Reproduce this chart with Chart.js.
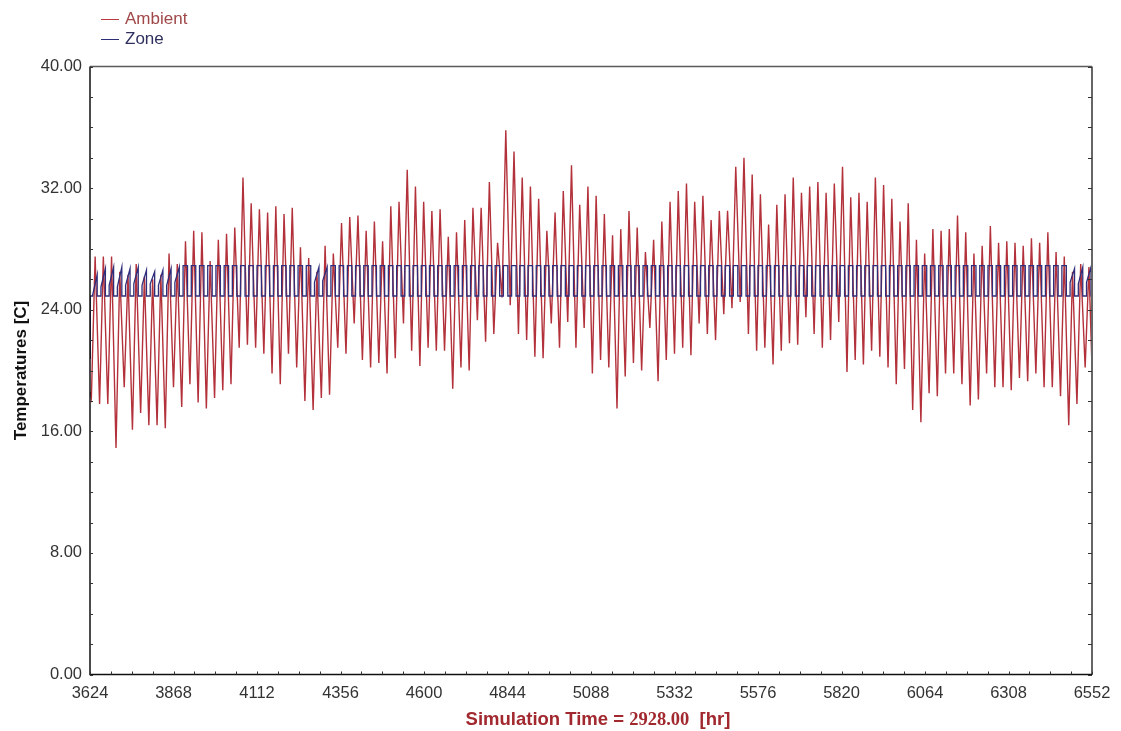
<!DOCTYPE html>
<html>
<head>
<meta charset="utf-8">
<title>Temperatures</title>
<script src="https://cdn.jsdelivr.net/npm/chart.js@4.4.1/dist/chart.umd.min.js"></script>
<style>
  html, body { margin: 0; padding: 0; background: #ffffff; }
  #wrap { position: relative; width: 1121px; height: 731px; overflow: hidden; }
  #chart { position: absolute; left: 0; top: 0; }
  .legend { position: absolute; left: 101px; top: 9px; font-family: "Liberation Sans", Arial, sans-serif; font-size: 17px; line-height: 20px; }
  .legend .row { display: flex; align-items: center; height: 20px; }
  .legend .sw { display: inline-block; width: 18px; height: 0; border-top: 1.5px solid; margin-right: 6px; }
  .xtitle { position: absolute; left: 0; width: 1196px; top: 708px; text-align: center; white-space: nowrap;
            font-family: "Liberation Sans", Arial, sans-serif; font-weight: bold; font-size: 18.5px; color: #a1282e; }
  .xtitle .num { font-family: "Liberation Serif", "Times New Roman", serif; font-weight: bold; font-size: 18.5px; }
</style>
</head>
<body>
<div id="wrap">
  <canvas id="chart" width="1121" height="731"></canvas>
  <div class="legend">
    <div class="row" style="color:#a04848"><span class="sw" style="border-color:#b83a3e"></span>Ambient</div>
    <div class="row" style="color:#303060"><span class="sw" style="border-color:#2e2e78"></span>Zone</div>
  </div>
  <div class="xtitle">Simulation Time = <span class="num">2928.00</span>&nbsp; [hr]</div>
</div>
<script>
// Simulation window in hours
const START_HOUR = 3624;
const END_HOUR = 6552;

// Axis tick labels
const xTicks = [3624, 3868, 4112, 4356, 4600, 4844, 5088, 5332, 5576, 5820, 6064, 6308, 6552];
const yTicks = [0, 8, 16, 24, 32, 40];

// Ambient temperature: daily maximum (afternoon) per simulated day, °C
const ambientMax = [
  27.5, 27.5, 27.5, 26.5, 26.3, 27.0, 26.2, 26.0, 26.3, 27.7, 27.0, 28.5, 29.2, 29.1, 27.2, 28.6, 29.0, 29.4, 32.7, 31.0, 30.6, 30.4, 30.8, 30.3, 30.7,
  28.1, 27.4, 26.5, 28.2, 27.7, 29.7, 30.1, 30.2, 29.2, 29.8, 28.5, 30.8, 31.1, 33.2, 32.1, 31.1, 30.5, 30.6, 28.8, 29.1, 29.9, 30.7, 30.7, 32.4,
  28.4, 35.8, 34.4, 32.7, 32.1, 31.3, 29.2, 30.4, 31.8, 33.5, 30.9, 32.1, 31.5, 30.3, 28.9, 29.3, 30.5, 29.4, 27.8, 28.6, 29.8, 31.1, 31.8, 32.3,
  31.1, 31.5, 29.9, 30.5, 30.5, 33.4, 34.0, 32.9, 31.6, 29.6, 30.9, 31.6, 32.7, 31.7, 32.1, 32.4, 31.7, 32.3, 33.4, 31.4, 31.7, 31.1, 32.7, 32.2,
  31.3, 29.8, 31.0, 28.6, 27.7, 29.3, 29.2, 29.3, 30.2, 29.1, 27.7, 28.2, 29.5, 28.4, 28.5, 28.4, 28.2, 28.7, 28.4, 29.1, 27.8, 27.5, 26.5, 27.0, 26.8
];

// Ambient temperature: daily minimum (early morning) per simulated day, °C
const ambientMin = [
  18.2, 17.8, 17.8, 14.9, 18.9, 16.1, 17.2, 16.4, 16.4, 16.2, 18.9, 17.6, 19.1, 17.9, 17.5, 18.2, 18.7, 19.1, 21.5, 21.7, 21.5, 21.1, 19.8, 19.1, 21.1,
  20.2, 18.0, 17.4, 18.2, 18.4, 21.5, 21.1, 23.1, 20.7, 20.2, 20.5, 19.8, 20.8, 23.1, 21.3, 20.3, 21.5, 21.3, 21.3, 18.8, 20.2, 20.0, 23.3, 21.9,
  22.4, 24.8, 24.3, 22.4, 22.0, 20.9, 20.8, 23.1, 21.5, 23.2, 21.5, 22.8, 19.8, 20.7, 20.2, 17.5, 19.6, 20.5, 20.0, 22.8, 19.3, 20.7, 21.1, 21.5,
  21.0, 23.1, 22.4, 22.0, 23.7, 24.1, 24.5, 22.4, 21.3, 21.5, 20.4, 21.3, 21.8, 21.7, 23.5, 22.4, 21.5, 22.0, 23.2, 19.9, 20.7, 20.4, 21.3, 20.9,
  20.2, 19.1, 20.1, 17.4, 16.6, 18.5, 18.3, 19.8, 19.8, 19.1, 17.7, 18.1, 19.8, 18.9, 18.9, 18.7, 19.5, 19.3, 19.8, 18.9, 18.9, 18.3, 16.4, 17.8, 20.2
];

// Ambient value at the first and last hour of the run
const ambientEdges = [18.6, 20.2];

// Hour of day of the ambient minimum and maximum
const ambientHours = [4, 15];

// Zone temperature: night level, controlled day level, and the initial value
const zoneLevels = [24.9, 26.9];
const zoneStart = 20.8;
// Hours of day when the zone moves to and leaves its day level
const zoneHours = [8, 21];
// Days where the zone drifts upward instead of holding flat
const rampDays = [0, 1, 2, 3, 4, 5, 6, 7, 8, 9, 10, 27, 28, 119, 120, 121];
const rampFrom = [25.0, 25.5, 25.6, 25.5, 25.6, 25.7, 25.6, 25.7, 25.6, 25.6, 25.8, 25.8, 25.9, 25.8, 25.7, 25.8];
const rampTo   = [26.3, 26.7, 26.8, 26.8, 26.7, 26.8, 26.6, 26.5, 26.6, 26.7, 26.8, 26.8, 26.8, 26.7, 26.8, 26.8];

// Build the ambient polyline: one minimum and one maximum per day
const ambientData = [{ x: START_HOUR, y: ambientEdges[0] }];
for (let d = 0; d < ambientMax.length; d++) {
  const base = START_HOUR + 24 * d;
  ambientData.push({ x: base + ambientHours[0], y: ambientMin[d] });
  ambientData.push({ x: base + ambientHours[1], y: ambientMax[d] });
}
ambientData.push({ x: END_HOUR, y: ambientEdges[1] });

// Build the zone trace: switches between night and day levels
const zoneData = [{ x: START_HOUR, y: zoneStart }, { x: START_HOUR + 1, y: zoneLevels[0] }];
for (let d = 0; d < ambientMax.length; d++) {
  const base = START_HOUR + 24 * d;
  const k = rampDays.indexOf(d);
  const from = k >= 0 ? rampFrom[k] : zoneLevels[1];
  const to = k >= 0 ? rampTo[k] : zoneLevels[1];
  zoneData.push({ x: base + zoneHours[0], y: zoneLevels[0] });
  zoneData.push({ x: base + zoneHours[0], y: from });
  zoneData.push({ x: base + zoneHours[1], y: to });
  zoneData.push({ x: base + zoneHours[1], y: zoneLevels[0] });
}
zoneData.push({ x: END_HOUR, y: zoneLevels[0] });

// Frame around the plot and small inward tick marks (minor divisions)
const frameTicks = {
  id: 'frameTicks',
  afterDraw(chart) {
    const { ctx, chartArea: a, scales } = chart;
    const xs = scales.x, ys = scales.y;
    ctx.save();
    ctx.lineCap = 'butt';
    // top and right edges
    ctx.strokeStyle = '#5a5a5a';
    ctx.lineWidth = 1.5;
    ctx.beginPath();
    ctx.moveTo(a.left, a.top); ctx.lineTo(a.right, a.top);
    ctx.stroke();
    ctx.lineWidth = 2;
    ctx.strokeStyle = '#666666';
    ctx.beginPath();
    ctx.moveTo(a.right, a.top); ctx.lineTo(a.right, a.bottom);
    ctx.stroke();
    // left and bottom edges
    ctx.strokeStyle = '#111111';
    ctx.lineWidth = 1.5;
    ctx.beginPath();
    ctx.moveTo(a.left, a.top); ctx.lineTo(a.left, a.bottom); ctx.lineTo(a.right, a.bottom);
    ctx.stroke();
    // minor ticks
    ctx.lineWidth = 1;
    ctx.strokeStyle = '#333333';
    ctx.beginPath();
    for (let v = ys.min; v <= ys.max + 1e-6; v += 2) {
      const py = Math.round(ys.getPixelForValue(v)) + 0.5;
      ctx.moveTo(a.left, py); ctx.lineTo(a.left + 3, py);
      ctx.moveTo(a.right, py); ctx.lineTo(a.right - 4, py);
    }
    for (let v = xs.min; v <= xs.max + 1e-6; v += 61) {
      const px = Math.round(xs.getPixelForValue(v)) + 0.5;
      ctx.moveTo(px, a.bottom); ctx.lineTo(px, a.bottom - 3);
    }
    ctx.stroke();
    ctx.restore();
  }
};

const tickFont = { family: '"Liberation Sans", Arial, sans-serif', size: 16.5 };

new Chart(document.getElementById('chart'), {
  type: 'line',
  data: {
    datasets: [
      {
        label: 'Ambient',
        data: ambientData,
        borderColor: '#b3313a',
        borderWidth: 1.4,
        pointRadius: 0,
        tension: 0,
        order: 2
      },
      {
        label: 'Zone',
        data: zoneData,
        borderColor: '#2e2e7c',
        borderWidth: 1.3,
        pointRadius: 0,
        tension: 0,
        order: 1
      }
    ]
  },
  options: {
    responsive: false,
    animation: false,
    events: [],
    layout: { padding: { top: 66.5, right: 29, left: 0, bottom: 0 } },
    plugins: { legend: { display: false }, tooltip: { enabled: false } },
    scales: {
      x: {
        type: 'linear',
        min: START_HOUR,
        max: END_HOUR,
        afterBuildTicks: (s) => { s.ticks = xTicks.map(v => ({ value: v })); },
        afterFit: (s) => { s.height = 731 - 674.5; },
        grid: { display: false, drawTicks: false },
        border: { display: false },
        ticks: {
          autoSkip: false, maxRotation: 0, padding: 9,
          color: '#333333', font: tickFont,
          callback: (v) => String(v)
        }
      },
      y: {
        type: 'linear',
        min: 0,
        max: 40,
        afterBuildTicks: (s) => { s.ticks = yTicks.map(v => ({ value: v })); },
        afterFit: (s) => { s.width = 90; },
        grid: { display: false, drawTicks: false },
        border: { display: false },
        ticks: {
          padding: 8,
          color: '#333333', font: tickFont,
          callback: (v) => Number(v).toFixed(2)
        },
        title: {
          display: true,
          text: 'Temperatures [C]',
          color: '#111111',
          font: { family: '"Liberation Sans", Arial, sans-serif', size: 17, weight: 'bold' },
          padding: { top: 11, bottom: 0 }
        }
      }
    }
  },
  plugins: [frameTicks]
});
</script>
</body>
</html>
